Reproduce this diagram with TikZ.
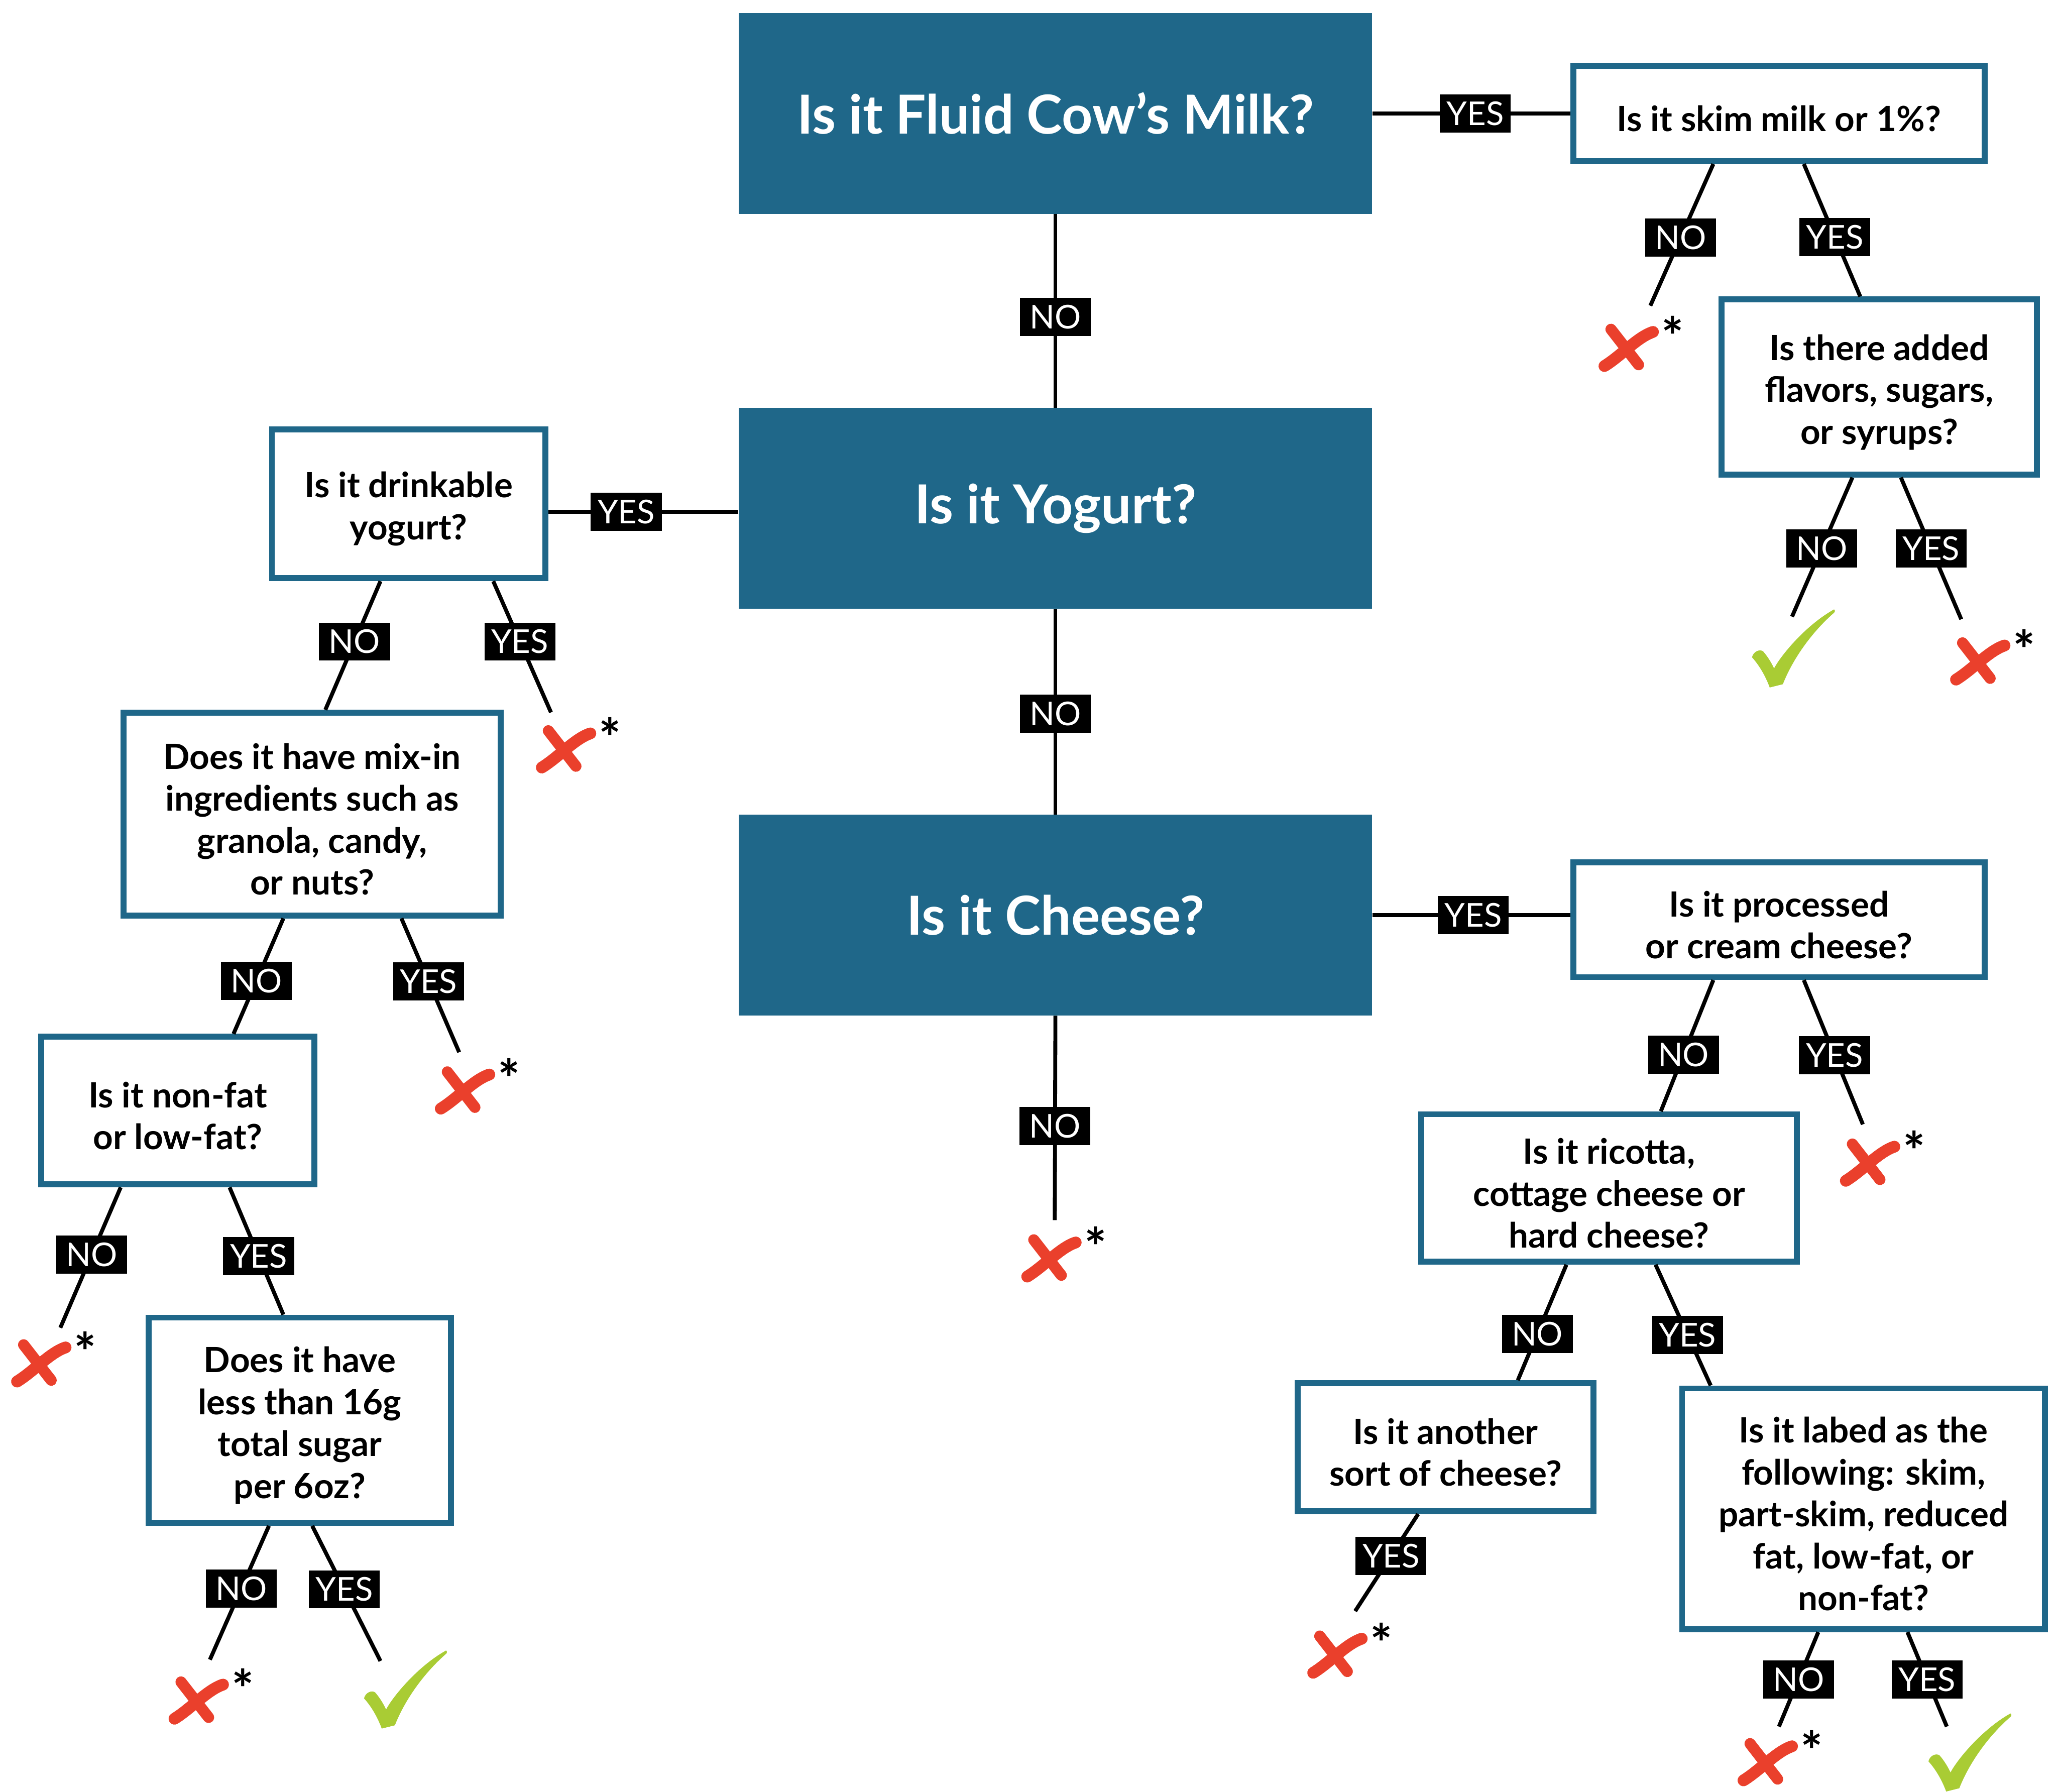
\documentclass[tikz,border=0pt]{standalone}
\usepackage{fontspec}
\setmainfont{Lato}
\usetikzlibrary{calc}
\definecolor{tealbox}{RGB}{31,103,137}
\definecolor{xred}{RGB}{234,64,44}
\definecolor{okgreen}{RGB}{169,204,52}
\newcommand\qtop{\rule{0pt}{27.5pt}}
\tikzset{
  mainbox/.style={fill=tealbox, text=white, minimum width=483, minimum height=153, inner sep=0pt,
    font=\fontsize{41}{48}\selectfont\bfseries},
  qbox/.style={draw=tealbox, line width=4.5pt, fill=white, align=center, inner sep=0pt,
    font=\fontsize{26.5}{32}\selectfont\bfseries},
  conn/.style={line width=3pt, black},
  lbl/.style={fill=black, text=white, minimum width=54, minimum height=29, inner xsep=4pt, inner ysep=2pt,
    font=\fontsize{25}{25}\selectfont},
  xmark/.pic={
    \draw[xred, line width=8.5pt, line cap=round] (-12,-15) -- (9,12);
    \draw[xred, line width=9pt, line cap=round] (-17,13) .. controls (-4,5) and (8,-9) .. (20,-13);
    \node[inner sep=0pt, font=\fontsize{40}{40}\selectfont\bfseries] (-ast) at (35,-10) {*};
  },
  checkmark/.pic={
    \fill[okgreen] (-17.5,29.5) .. controls (-21,20) and (-26,12) .. (-31,6.5)
      .. controls (-30,2) and (-25,0) .. (-22.5,2)
      .. controls (-19,6) and (-16,11) .. (-14.2,15)
      .. controls (-9,5) and (10,-18) .. (31.5,-30)
      .. controls (32.5,-29.5) and (32.5,-28) .. (31,-27)
      .. controls (14,-12) and (0,8) .. (-7.5,27)
      -- cycle;
  }
}
\begin{document}
\begin{tikzpicture}[x=1pt,y=-1pt]
\useasboundingbox[fill=white] (0,0) rectangle (1568,1365.6);

% main boxes
\node[mainbox] (milk) at (804.5,86.5) {Is it Fluid Cow’s Milk?};
\node[mainbox] (yog) at (804.5,387.5) {Is it Yogurt?};
\node[mainbox] (chs) at (804.5,697.5) {Is it Cheese?};

% question boxes
\node[qbox, minimum width=313.5, minimum height=72.5] (skim) at (1356,86.5) {\qtop Is it skim milk or 1\%?};
\node[qbox, minimum width=240.5, minimum height=133.5] (flav) at (1432.5,295) {\qtop Is there added\\flavors, sugars,\\or syrups?};
\node[qbox, minimum width=208.5, minimum height=113.5] (drink) at (311.5,384) {\qtop Is it drinkable\\yogurt?};
\node[qbox, minimum width=287.5, minimum height=154.5] (mixin) at (238,620.5) {\qtop Does it have mix-in\\ingredients such as\\granola, candy,\\or nuts?};
\node[qbox, minimum width=208.5, minimum height=112.5] (nonfat) at (135.5,846.5) {\qtop Is it non-fat\\or low-fat?};
\node[qbox, minimum width=230.5, minimum height=156.5] (sugar) at (228.5,1082.5) {\qtop Does it have\\less than 16g\\total sugar\\per 6oz?};
\node[qbox, minimum width=313.5, minimum height=87.5] (proc) at (1356,701) {\qtop Is it processed\\or cream cheese?};
\node[qbox, minimum width=286.5, minimum height=112.5] (ricot) at (1226.5,905.5) {\qtop Is it ricotta,\\cottage cheese or\\hard cheese?};
\node[qbox, minimum width=225.5, minimum height=97.5] (other) at (1102,1103) {\qtop Is it another\\sort of cheese?};
\node[qbox, minimum width=276.5, minimum height=183.5] (lab) at (1420.5,1150) {\qtop Is it labed as the\\following: skim,\\part-skim, reduced\\fat, low-fat, or\\non-fat?};

% free ends
\coordinate (e1) at (1258,233);
\coordinate (e2) at (1366,470);
\coordinate (e3) at (1495,472);
\coordinate (e4) at (420,543);
\coordinate (e5) at (350,802);
\coordinate (e6) at (46,1012);
\coordinate (e7) at (160,1265);
\coordinate (e8) at (290,1266);
\coordinate (e9) at (1420,857);
\coordinate (e10) at (1033,1228);
\coordinate (e11) at (1356,1316);
\coordinate (e12) at (1484,1316);
\coordinate (e13) at (804,930);

% main spine
\draw[conn] (milk.south) -- node[lbl, pos=0.53] (l1) {NO} (yog.north);
\draw[conn] (yog.south) -- node[lbl, pos=0.51] (l2) {NO} (chs.north);
\draw[conn] (chs.south) -- node[lbl, pos=0.54] (l3) {NO} (e13);
\draw[conn] (milk.east) -- node[lbl, pos=0.52] (l4) {YES} (skim.west);
\draw[conn] ($(yog.west)+(0,2.5)$) -- node[lbl, pos=0.59] (l5) {YES} ($(yog.west -| drink.east)+(0,2.5)$);
\draw[conn] (chs.east) -- node[lbl, pos=0.51] (l6) {YES} (chs.east -| proc.west);

% milk branch
\draw[conn] ($(skim.south)+(-50,0)$) -- node[lbl, pos=0.52] (l7) {NO} (e1);
\draw[conn] ($(skim.south)+(19,0)$) -- node[lbl, pos=0.55] (l8) {YES} ($(flav.north)+(-14.5,0)$);
\draw[conn] ($(flav.south)+(-20.5,0)$) -- node[lbl, pos=0.51] (l9) {NO} (e2);
\draw[conn] ($(flav.south)+(16.5,0)$) -- node[lbl, pos=0.5] (l10) {YES} (e3);

% yogurt branch
\draw[conn] ($(drink.south)+(-21.5,0)$) -- node[lbl, pos=0.47] (l11) {NO} ($(mixin.north)+(10,0)$);
\draw[conn] ($(drink.south)+(64.5,0)$) -- node[lbl, pos=0.46] (l12) {YES} (e4);
\draw[conn] ($(mixin.south)+(-22,0)$) -- node[lbl, pos=0.54] (l13) {NO} ($(nonfat.north)+(42.5,0)$);
\draw[conn] ($(mixin.south)+(68,0)$) -- node[lbl, pos=0.47] (l14) {YES} (e5);
\draw[conn] ($(nonfat.south)+(-43.5,0)$) -- node[lbl, pos=0.48] (l15) {NO} (e6);
\draw[conn] ($(nonfat.south)+(39.5,0)$) -- node[lbl, pos=0.54] (l16) {YES} ($(sugar.north)+(-12.5,0)$);
\draw[conn] ($(sugar.south)+(-23.5,0)$) -- node[lbl, pos=0.47] (l17) {NO} (e7);
\draw[conn] ($(sugar.south)+(9.5,0)$) -- node[lbl, pos=0.47] (l18) {YES} (e8);

% cheese branch
\draw[conn] ($(proc.south)+(-50,0)$) -- node[lbl, pos=0.57] (l19) {NO} ($(ricot.north)+(39.5,0)$);
\draw[conn] ($(proc.south)+(19,0)$) -- node[lbl, pos=0.52] (l20) {YES} (e9);
\draw[conn] ($(ricot.south)+(-32.5,0)$) -- node[lbl, pos=0.6] (l21) {NO} ($(other.north)+(55,0)$);
\draw[conn] ($(ricot.south)+(35.5,0)$) -- node[lbl, pos=0.58] (l22) {YES} ($(lab.north)+(-116.5,0)$);
\draw[conn] ($(other.south)+(-21,0)$) -- node[lbl, pos=0.43] (l23) {YES} (e10);
\draw[conn] ($(lab.south)+(-34.5,0)$) -- node[lbl, pos=0.5] (l24) {NO} (e11);
\draw[conn] ($(lab.south)+(33.5,0)$) -- node[lbl, pos=0.5] (l25) {YES} (e12);

% outcomes
\pic (x1) at (1240,266) {xmark};
\pic (x2) at (1508,505) {xmark};
\pic (x3) at (430,572) {xmark};
\pic (x4) at (353,832) {xmark};
\pic (x5) at (30,1040) {xmark};
\pic (x6) at (150,1297) {xmark};
\pic (x7) at (1424,887) {xmark};
\pic (x8) at (1018,1262) {xmark};
\pic (x9) at (1346,1344) {xmark};
\pic (x10) at (800,960) {xmark};
\pic (c1) at (1366.5,494.5) {checkmark};
\pic (c2) at (308.5,1288) {checkmark};
\pic (c3) at (1501,1336) {checkmark};
\end{tikzpicture}
\end{document}
